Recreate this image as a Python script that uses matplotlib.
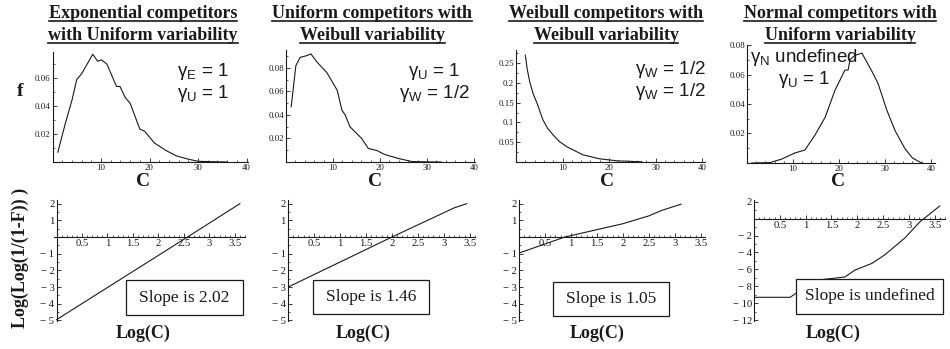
import matplotlib
matplotlib.use("Agg")
import matplotlib.pyplot as plt
from matplotlib.lines import Line2D
from matplotlib.patches import Rectangle
from matplotlib.ticker import FixedLocator, MultipleLocator

W, H = 950, 349

plt.rcParams["font.family"] = ["Liberation Serif", "DejaVu Serif"]
plt.rcParams["mathtext.fontset"] = "custom"
plt.rcParams["mathtext.rm"] = "Liberation Sans"
plt.rcParams["mathtext.it"] = "Liberation Sans:italic"

# ---- top row: density f of C ----
exp_c = [1.1, 2.6, 4.0, 5.0, 6.0, 8.3, 9.3, 10.1, 11.2, 13.2, 13.9, 15.0, 16.0,
         18.0, 19.0, 21.0, 23.5, 25.6, 28.0, 30.0, 33.0, 36.0]
exp_f = [0.007, 0.027, 0.044, 0.059, 0.063, 0.077, 0.072, 0.073, 0.070, 0.054,
         0.054, 0.046, 0.042, 0.0235, 0.022, 0.0136, 0.008, 0.0043, 0.002,
         0.0005, 0.0002, 0.0]

uni_c = [1.1, 2.1, 3.0, 4.5, 5.3, 6.6, 8.7, 10.9, 11.9, 12.6, 13.6, 16.1, 17.5,
         19.3, 21.0, 23.9, 26.8, 30.0, 33.0]
uni_f = [0.047, 0.082, 0.089, 0.0906, 0.092, 0.085, 0.076, 0.061, 0.044, 0.040,
         0.030, 0.020, 0.0115, 0.0098, 0.0064, 0.003, 0.0004, 0.0001, 0.0]

wei_c = [2.0, 2.4, 3.0, 3.7, 4.5, 5.8, 6.8, 8.0, 9.4, 11.0, 14.4, 18.0, 21.7, 27.0]
wei_f = [0.27, 0.235, 0.20, 0.172, 0.149, 0.106, 0.085, 0.068, 0.051, 0.038,
         0.018, 0.008, 0.003, 0.0005]

nor_c = [1.0, 5.0, 7.6, 10.4, 12.6, 14.8, 17.0, 19.1, 20.2, 21.3, 22.0, 22.4,
         23.5, 25.0, 27.2, 28.5, 30.4, 32.2, 34.3, 36.0, 38.0]
nor_f = [0.0, 0.0003, 0.0027, 0.0068, 0.0088, 0.019, 0.031, 0.049, 0.056, 0.063,
         0.063, 0.070, 0.073, 0.0745, 0.062, 0.054, 0.036, 0.022, 0.010, 0.0034, 0.0]

# ---- bottom row: Log(Log(1/(1-F))) vs Log(C) ----
exp_logc = [0.0, 2.57, 3.6]
exp_llf = [-4.95, 0.0, 2.0]

uni_logc = [0.0, 2.0, 3.2, 3.44]
uni_llf = [-3.0, 0.0, 1.75, 2.0]

wei_logc = [0.0, 0.88, 2.0, 2.5, 2.75, 3.12]
wei_llf = [-0.96, 0.0, 0.8, 1.27, 1.6, 1.97]

nor_logc = [0.0, 0.7, 1.18, 1.76, 1.95, 2.28, 2.53, 2.92, 3.21, 3.6]
nor_llf = [-9.3, -9.3, -7.3, -6.9, -6.1, -5.3, -4.3, -2.3, -0.4, 1.5]

titles = [
    ("Exponential competitors", "with Uniform variability"),
    ("Uniform competitors with", "Weibull variability"),
    ("Weibull competitors with", "Weibull variability"),
    ("Normal competitors with", "Uniform variability"),
]
gamma_lines = [
    (r"γ$_{\mathrm{E}}$ = 1", r"γ$_{\mathrm{U}}$ = 1"),
    (r"γ$_{\mathrm{U}}$ = 1", r"γ$_{\mathrm{W}}$ = 1/2"),
    (r"γ$_{\mathrm{W}}$ = 1/2", r"γ$_{\mathrm{W}}$ = 1/2"),
    (r"γ$_{\mathrm{N}}$ undefined", r"γ$_{\mathrm{U}}$ = 1"),
]
slopes = ["Slope is 2.02", "Slope is 1.46", "Slope is 1.05", "Slope is undefined"]

top_yticks = [
    [0.02, 0.04, 0.06],
    [0.02, 0.04, 0.06, 0.08],
    [0.05, 0.1, 0.15, 0.2, 0.25],
    [0.02, 0.04, 0.06, 0.08],
]
bottom_yticks = [
    [-5, -4, -3, -2, -1, 1, 2],
    [-5, -4, -3, -2, -1, 1, 2],
    [-5, -4, -3, -2, -1, 1, 2],
    [-12, -10, -8, -6, -4, -2, 2],
]
logc_ticks = [0.5, 1, 1.5, 2, 2.5, 3, 3.5]
c_ticks = [10, 20, 30, 40]

top_series = [(exp_c, exp_f), (uni_c, uni_f), (wei_c, wei_f), (nor_c, nor_f)]
bottom_series = [(exp_logc, exp_llf), (uni_logc, uni_llf),
                 (wei_logc, wei_llf), (nor_logc, nor_llf)]

# layout in pixels: (left, top, right, bottom)
TOP_RECTS = [(52.5, 52, 248, 162), (286, 50, 475, 162),
             (516, 50, 705, 162), (747, 45, 935, 163)]
TOP_LIMS = [((0, 40.3), (0, 0.0786)), ((0, 40.2), (0, 0.0953)),
            ((0, 40.6), (0, 0.283)), ((0, 40.9), (0, 0.080))]
BOT_RECTS = [(54, 200, 245, 321), (288, 200, 475, 321),
             (519, 200, 705, 321), (754, 200, 945, 321)]
BOT_LIMS = [((-0.05, 3.70), (-5.03, 2.22)), ((0, 3.6), (-5.03, 2.22)),
            ((0, 3.58), (-5.03, 2.22)), ((0, 3.7), (-12.1, 2.2))]
TITLE_X = [143, 372, 606, 840]
GAMMA_POS = [(203, 72, 94), (434, 72, 94), (670, 69, 92), (804, 57, 80)]
BOXES = [(126, 280, 243, 315), (313, 280, 429, 314),
         (553, 282, 669, 316), (796, 279, 943, 314)]
LOGC_X = [143, 363, 597, 833]
C_X = [143, 375, 607, 838]

INK = "#1a1a1a"


def rect(px):
    l, t, r, b = px
    return [l / W, 1 - b / H, (r - l) / W, (b - t) / H]


def style_axes(ax, fontsize):
    for side in ("top", "right"):
        ax.spines[side].set_visible(False)
    for side in ("left", "bottom"):
        ax.spines[side].set_linewidth(0.8)
        ax.spines[side].set_color(INK)
    ax.tick_params(which="major", direction="in", length=3, width=0.6,
                   labelsize=fontsize, pad=1.5, colors=INK)
    ax.tick_params(which="minor", direction="in", length=1.5, width=0.5, colors=INK)
    ax.patch.set_visible(False)


fig = plt.figure(figsize=(W / 100, H / 100), dpi=100)

for i in range(4):
    # density panel
    ax = fig.add_axes(rect(TOP_RECTS[i]))
    c, f = top_series[i]
    ax.plot(c, f, color=INK, linewidth=0.8)
    ax.set_xlim(*TOP_LIMS[i][0])
    ax.set_ylim(*TOP_LIMS[i][1])
    ax.xaxis.set_major_locator(FixedLocator(c_ticks))
    ax.xaxis.set_minor_locator(MultipleLocator(2))
    ax.yaxis.set_major_locator(FixedLocator(top_yticks[i]))
    ax.yaxis.set_minor_locator(MultipleLocator(top_yticks[i][0] / 2))
    ax.set_yticklabels([f"{v:g}" for v in top_yticks[i]])
    style_axes(ax, 6.3)

    # cumulative panel
    bx = fig.add_axes(rect(BOT_RECTS[i]))
    x, y = bottom_series[i]
    bx.plot(x, y, color=INK, linewidth=0.8, zorder=2)
    bx.set_xlim(*BOT_LIMS[i][0])
    bx.set_ylim(*BOT_LIMS[i][1])
    bx.spines["bottom"].set_position(("data", 0))
    bx.spines["left"].set_position(("data", 0))
    bx.xaxis.set_major_locator(FixedLocator(logc_ticks))
    bx.xaxis.set_minor_locator(MultipleLocator(0.1))
    bx.yaxis.set_major_locator(FixedLocator(bottom_yticks[i]))
    bx.yaxis.set_minor_locator(MultipleLocator(0.5 if i < 3 else 1))
    bx.set_xticklabels([f"{v:g}" for v in logc_ticks])
    bx.set_yticklabels([f"{v:g}".replace("-", "\u2212 ") for v in bottom_yticks[i]])
    style_axes(bx, 7.7)

    # titles
    fig.text(TITLE_X[i] / W, 1 - 13 / H, titles[i][0], ha="center", va="center",
             fontsize=13, fontweight="bold", color=INK)
    fig.text(TITLE_X[i] / W, 1 - 35 / H, titles[i][1], ha="center", va="center",
             fontsize=13, fontweight="bold", color=INK)

    gx, gy1, gy2 = GAMMA_POS[i]
    for txt, gy in zip(gamma_lines[i], (gy1, gy2)):
        fig.text(gx / W, 1 - gy / H, txt, ha="center", va="center",
                 fontsize=13.5, family="Liberation Sans", color=INK)

    l, t, r, b = BOXES[i]
    fig.patches.append(Rectangle((l / W, 1 - b / H), (r - l) / W, (b - t) / H,
                                 transform=fig.transFigure, facecolor="white",
                                 edgecolor=INK, linewidth=0.9, zorder=5))
    fig.text((l + r) / 2 / W, 1 - (t + b) / 2 / H, slopes[i], ha="center",
             va="center", fontsize=12.5, color=INK, zorder=6)

    fig.text(C_X[i] / W, 1 - 182 / H, "C", ha="center", va="center",
             fontsize=14, fontweight="bold", color=INK)
    fig.text(LOGC_X[i] / W, 1 - 333 / H, "Log(C)", ha="center", va="center",
             fontsize=13, fontweight="bold", color=INK)

fig.text(20 / W, 1 - 92 / H, "f", ha="center", va="center", fontsize=14,
         fontweight="bold", color=INK)
fig.text(20 / W, 1 - 258 / H, "Log(Log(1/(1-F)) )", ha="center", va="center",
         rotation=90, fontsize=13, fontweight="bold", color=INK)

# underline the two-line titles
fig.canvas.draw()
renderer = fig.canvas.get_renderer()
inv = fig.transFigure.inverted()
title_set = {s for pair in titles for s in pair}
for t in list(fig.texts):
    if t.get_text() in title_set:
        bb = t.get_window_extent(renderer)
        (x0, y0), (x1, _) = inv.transform([(bb.x0, bb.y0 + 1), (bb.x1, bb.y0)])
        fig.lines.append(Line2D([x0, x1], [y0, y0], transform=fig.transFigure,
                                color=INK, linewidth=1.2))

fig.savefig("out.png", dpi=100)
